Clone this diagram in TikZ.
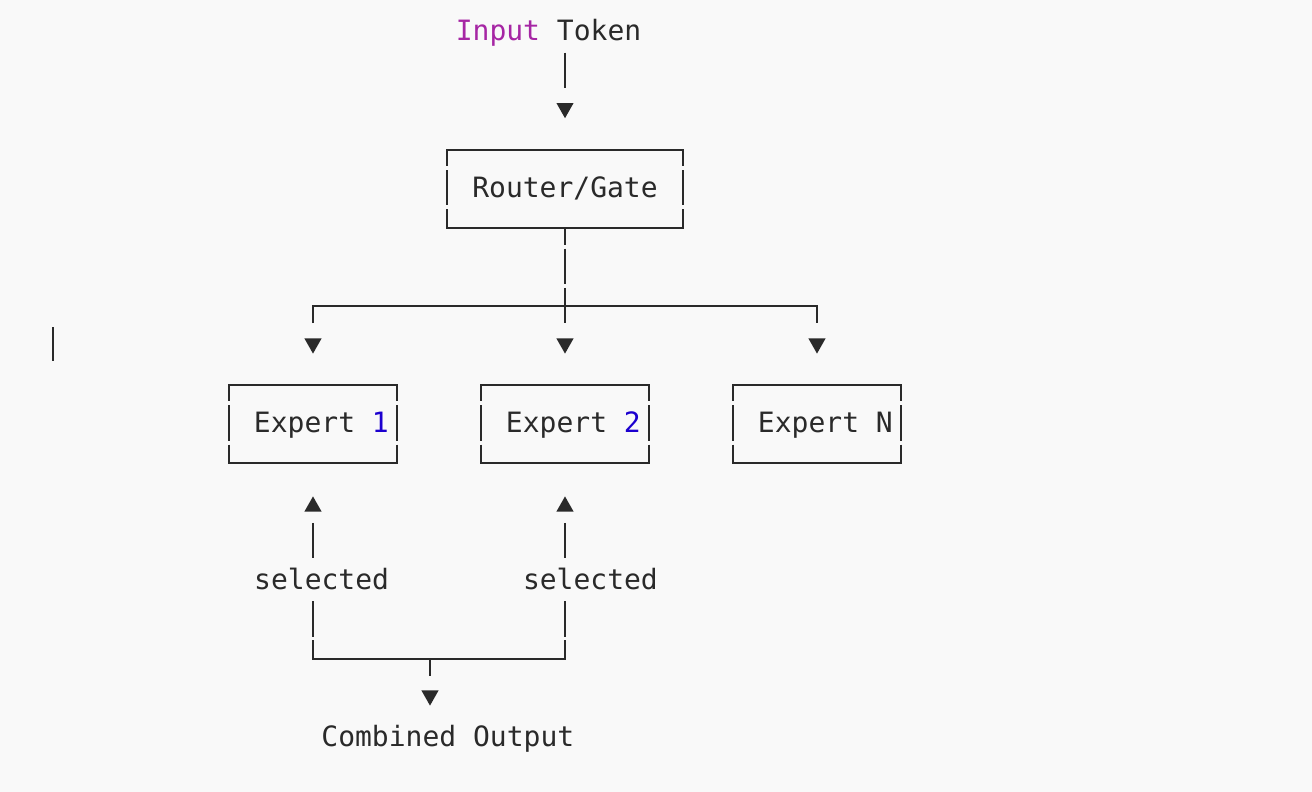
\documentclass[tikz,border=0pt]{standalone}
\usepackage{fontspec}
\setmonofont{DejaVu Sans Mono}
\definecolor{bg}{HTML}{F9F9F9}
\definecolor{ink}{HTML}{2A2A2A}
\definecolor{kw}{HTML}{A626A4}
\definecolor{num}{HTML}{1C00CF}
\begin{document}
\begin{tikzpicture}[x=1pt,y=-1pt,
  every node/.style={font=\fontsize{28}{39}\selectfont\ttfamily, text=ink},
  ln/.style={draw=ink, line width=2pt},
  hln/.style={draw=ink, line width=2pt, line cap=rect},
  sidegap/.style={dash pattern=on 16.6pt off 4pt on 35.2pt off 4pt on 60pt off 4pt},
  lowgap/.style={dash pattern=on 35.2pt off 3.8pt on 60pt off 4pt},
  boxnode/.style={minimum height=78.4pt, inner sep=0pt, outer sep=0pt, text height=22pt, text depth=5pt},
  txt/.style={anchor=base west, inner sep=0pt, outer sep=0pt},
  tridown/.pic={\fill[ink] (-8.6,-7.6) -- (8.6,-7.6) -- (0,7.6) -- cycle;},
  triup/.pic={\fill[ink] (-8.6,7.6) -- (8.6,7.6) -- (0,-7.6) -- cycle;},
]
\fill[bg] (0,0) rectangle (1312,792);
\useasboundingbox (0,0) rectangle (1312,792);

% text cursor
\coordinate (cur1) at (53,327);
\coordinate (cur2) at (53,361);
\draw[ln] (cur1) -- (cur2);

% input
\node[txt] (input) at (455.8,40.5) {\textcolor{kw}{Input} Token};
\coordinate (i1) at (565,52.6);
\coordinate (i2) at (565,87.8);
\draw[ln] (i1) -- (i2);
\coordinate (a0) at (565,110.6);
\pic at (a0) {tridown};

% router
\node[boxnode, minimum width=235.2pt] (router) at (565,188.8) {Router/Gate};
\draw[hln] (router.north west) -- (router.north east);
\draw[hln] (router.south west) -- (router.south east);
\draw[ln, sidegap] (router.north west) -- (router.south west);
\draw[ln, sidegap] (router.north east) -- (router.south east);

% branch
\coordinate (b0) at (565,323);
\coordinate (bl) at (313,306.4);
\coordinate (br) at (817,306.4);
\coordinate (bl2) at (313,323);
\coordinate (br2) at (817,323);
\draw[ln, sidegap] (router.south) -- (b0);
\draw[ln, line join=miter] (bl2) -- (bl) -- (br) -- (br2);

\coordinate (d1) at (313,346);
\coordinate (d2) at (565,346);
\coordinate (d3) at (817,346);
\pic at (d1) {tridown};
\pic at (d2) {tridown};
\pic at (d3) {tridown};

% experts
\node[boxnode, minimum width=168pt] (e1) at (313,424) {\hspace*{16.8pt}Expert \textcolor{num}{1}};
\node[boxnode, minimum width=168pt] (e2) at (565,424) {\hspace*{16.8pt}Expert \textcolor{num}{2}};
\node[boxnode, minimum width=168pt] (eN) at (817,424) {\hspace*{16.8pt}Expert N};
\foreach \e in {e1,e2,eN}{
  \draw[hln] (\e.north west) -- (\e.north east);
  \draw[hln] (\e.south west) -- (\e.south east);
  \draw[ln, sidegap] (\e.north west) -- (\e.south west);
  \draw[ln, sidegap] (\e.north east) -- (\e.south east);
}

% selected paths
\coordinate (u1) at (313,504);
\coordinate (u2) at (565,504);
\pic at (u1) {triup};
\pic at (u2) {triup};
\coordinate (v1a) at (313,522.8);
\coordinate (v1b) at (313,558);
\coordinate (v2a) at (565,522.8);
\coordinate (v2b) at (565,558);
\draw[ln] (v1a) -- (v1b);
\draw[ln] (v2a) -- (v2b);
\node[txt] (s1) at (254.2,589.3) {selected};
\node[txt] (s2) at (523,589.3) {selected};
\coordinate (w1a) at (313,601.4);
\coordinate (w1b) at (313,659.2);
\coordinate (w2a) at (565,601.4);
\coordinate (w2b) at (565,659.2);
\draw[ln, lowgap] (w1a) -- (w1b);
\draw[ln, lowgap] (w2a) -- (w2b);
\draw[hln] (w1b) -- (w2b);
\coordinate (t1) at (430,659.2);
\coordinate (t2) at (430,675.8);
\draw[ln] (t1) -- (t2);
\coordinate (c0) at (430,698);
\pic at (c0) {tridown};

\node[txt] (out) at (321.4,746.1) {Combined Output};
\end{tikzpicture}
\end{document}
